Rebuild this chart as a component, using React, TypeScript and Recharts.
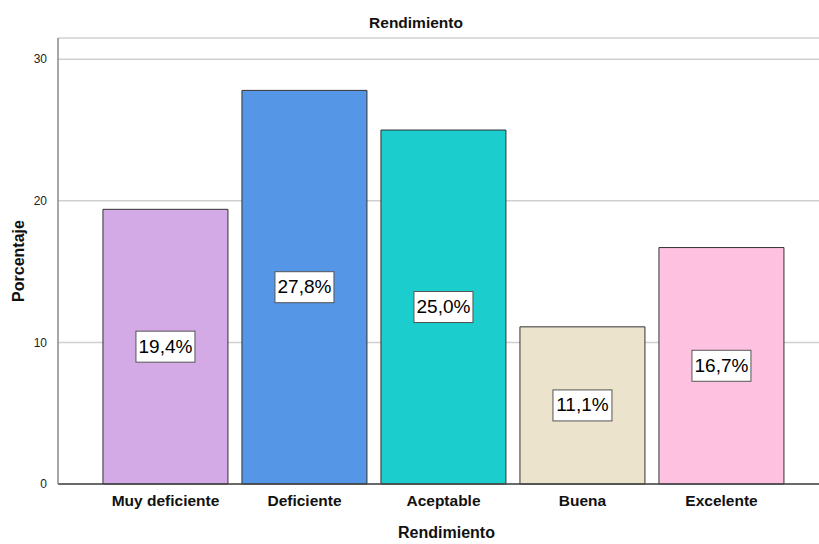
import React from "react";
import { BarChart, Bar, XAxis, YAxis, CartesianGrid, Cell, LabelList } from "recharts";

const categories = ["Muy deficiente", "Deficiente", "Aceptable", "Buena", "Excelente"];
const values = [19.4, 27.8, 25.0, 11.1, 16.7];
const colors = ["#d3a9e6", "#5596e6", "#1ccdcd", "#ebe3cc", "#fec2e0"];
const yTicks = [0, 10, 20, 30];

const data = categories.map((c, i) => ({ name: c, value: values[i] }));

const FONT = "'Liberation Sans', Arial, sans-serif";

const BoxLabel = (props: any) => {
  const { x, y, width, height, value } = props;
  const cx = x + width / 2;
  const cy = y + height / 2;
  const text = value.toFixed(1).replace(".", ",") + "%";
  const w = 59;
  const h = 31;
  return (
    <g>
      <rect x={cx - w / 2} y={cy - h / 2} width={w} height={h} fill="#fff" stroke="#555" strokeWidth={1} />
      <text x={cx} y={cy + 1} textAnchor="middle" dominantBaseline="middle" fontSize={19} fontFamily={FONT} fill="#000">
        {text}
      </text>
    </g>
  );
};

export default function App() {
  return (
    <div style={{ position: "absolute", left: 0, top: 0, width: 819, height: 544, background: "#fff" }}>
      <BarChart
        width={819}
        height={544}
        data={data}
        margin={{ top: 38, right: 0, left: 0, bottom: 0 }}
        barCategoryGap="5%"
      >
        <text x={416} y={28} textAnchor="middle" fontSize={15.5} fontWeight={600} fontFamily={FONT} fill="#111">
          Rendimiento
        </text>
        <CartesianGrid vertical={false} stroke="#d0d0d0" strokeWidth={1.5} />
        <XAxis
          dataKey="name"
          height={60}
          padding={{ left: 38, right: 28 }}
          tickLine={false}
          axisLine={{ stroke: "#444", strokeWidth: 1.5 }}
          tick={{ fontSize: 15.5, fontWeight: "bold", fontFamily: FONT, fill: "#111" }}
          tickMargin={5}
          interval={0}
          label={{ value: "Rendimiento", position: "insideBottom", offset: 0, fontSize: 16, fontWeight: "bold", fontFamily: FONT, fill: "#111", dy: -6, dx: 8 }}
        />
        <YAxis
          width={58}
          domain={[0, 31.5]}
          ticks={yTicks}
          tickLine={false}
          axisLine={{ stroke: "#888", strokeWidth: 1.5 }}
          tick={{ fontSize: 12, fontFamily: FONT, fill: "#222" }}
          tickMargin={5}
          label={{ value: "Porcentaje", angle: -90, position: "insideLeft", offset: 18, fontSize: 16, fontWeight: "bold", fontFamily: FONT, fill: "#111", style: { textAnchor: "middle" } }}
        />
        <Bar dataKey="value" isAnimationActive={false} stroke="#333" strokeWidth={1}>
          {data.map((d, i) => (
            <Cell key={d.name} fill={colors[i]} />
          ))}
          <LabelList dataKey="value" content={BoxLabel} />
        </Bar>
      </BarChart>
    </div>
  );
}
